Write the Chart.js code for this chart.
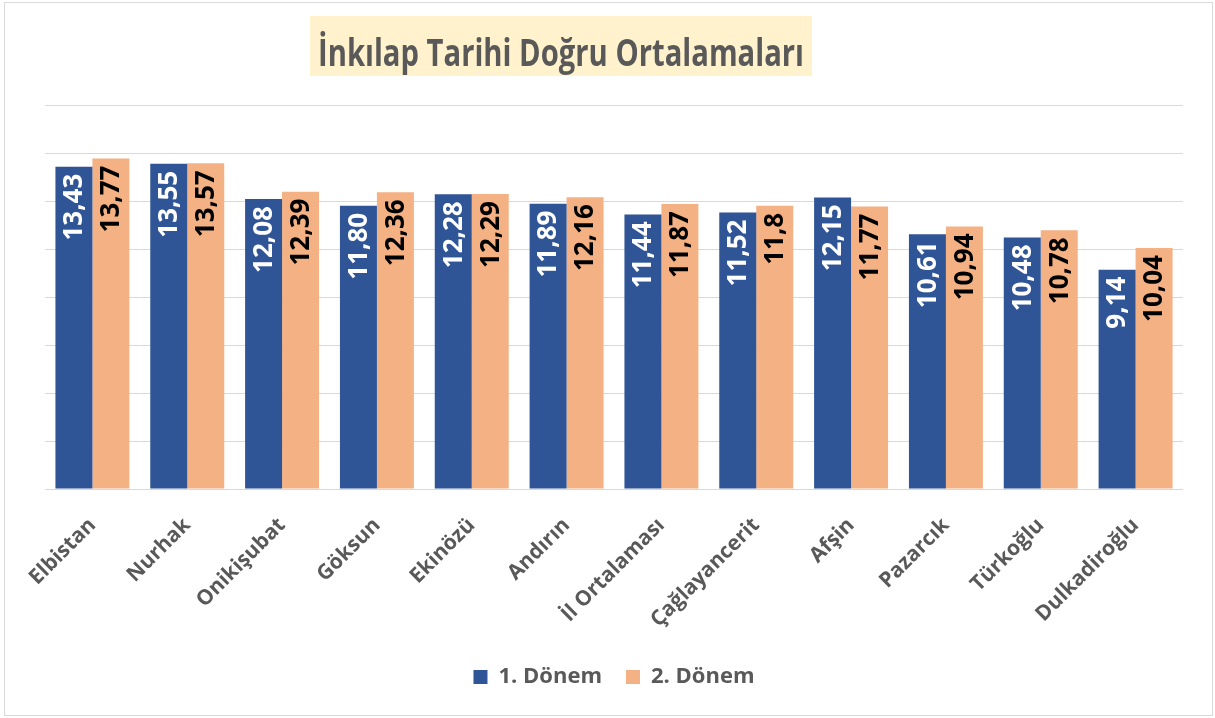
<!DOCTYPE html>
<html lang="tr">
<head>
    <meta charset="UTF-8">
    <title>İnkılap Tarihi Doğru Ortalamaları</title>
    <style>
        body {
            margin: 0;
            background: #fff;
        }

        .frame {
            position: absolute;
            left: 4px;
            top: 2px;
            width: 1207px;
            height: 712px;
            border: 1px solid #d9d9d9;
        }

        .chart-box {
            position: absolute;
            left: 0;
            top: 0;
            width: 1215px;
            height: 718px;
        }
    </style>
</head>
<body>
    <div class="frame"></div>
    <div class="chart-box">
        <canvas id="ortalamaChart"></canvas>
    </div>
    <script src="https://cdn.jsdelivr.net/npm/chart.js"></script>
    <script>
        const ilceler = ['Elbistan', 'Nurhak', 'Onikişubat', 'Göksun', 'Ekinözü', 'Andırın',
            'İl Ortalaması', 'Çağlayancerit', 'Afşin', 'Pazarcık', 'Türkoğlu', 'Dulkadiroğlu'];
        const donem1 = [13.43, 13.55, 12.08, 11.80, 12.28, 11.89, 11.44, 11.52, 12.15, 10.61, 10.48, 9.14];
        const donem2 = [13.77, 13.57, 12.39, 12.36, 12.29, 12.16, 11.87, 11.8, 11.77, 10.94, 10.78, 10.04];
        // labels as printed on the bars
        const etiket1 = ['13,43', '13,55', '12,08', '11,80', '12,28', '11,89', '11,44', '11,52', '12,15', '10,61', '10,48', '9,14'];
        const etiket2 = ['13,77', '13,57', '12,39', '12,36', '12,29', '12,16', '11,87', '11,8', '11,77', '10,94', '10,78', '10,04'];
        const yTicks = [0, 2, 4, 6, 8, 10, 12, 14, 16];

        const textGray = '#595959';

        // title with yellow box
        const titlePlugin = {
            id: 'titleBox',
            beforeDraw(chart) {
                const ctx = chart.ctx;
                ctx.save();
                ctx.fillStyle = '#FFF2CC';
                ctx.fillRect(310, 16, 502, 60);
                ctx.fillStyle = textGray;
                ctx.font = 'bold 37px "Open Sans"';
                ctx.textAlign = 'center';
                ctx.textBaseline = 'alphabetic';
                ctx.fillText('İnkılap Tarihi Doğru Ortalamaları', 561, 66, 486);
                ctx.restore();
            }
        };

        // vertical value labels inside the bar tops
        const barLabels = {
            id: 'barLabels',
            afterDatasetsDraw(chart) {
                const ctx = chart.ctx;
                chart.data.datasets.forEach((ds, i) => {
                    const meta = chart.getDatasetMeta(i);
                    meta.data.forEach((bar, j) => {
                        ctx.save();
                        ctx.translate(bar.x, bar.y + 7);
                        ctx.rotate(-Math.PI / 2);
                        ctx.font = 'bold 26px "Open Sans"';
                        ctx.fillStyle = ds.labelColor;
                        ctx.textAlign = 'right';
                        ctx.textBaseline = 'middle';
                        ctx.fillText(ds.texts[j], 0, 1);
                        ctx.restore();
                    });
                });
            }
        };

        const ctx = document.getElementById('ortalamaChart').getContext('2d');
        new Chart(ctx, {
            type: 'bar',
            data: {
                labels: ilceler,
                datasets: [{
                    label: '1. Dönem',
                    data: donem1,
                    texts: etiket1,
                    labelColor: '#ffffff',
                    backgroundColor: '#2F5597'
                }, {
                    label: '2. Dönem',
                    data: donem2,
                    texts: etiket2,
                    labelColor: '#000000',
                    backgroundColor: '#F4B183'
                }]
            },
            options: {
                responsive: true,
                maintainAspectRatio: false,
                animation: false,
                events: [],
                layout: {
                    padding: { left: 45, right: 32, top: 105, bottom: 20 }
                },
                datasets: {
                    bar: {
                        categoryPercentage: 0.78,
                        barPercentage: 1
                    }
                },
                scales: {
                    x: {
                        grid: { display: false },
                        border: { display: false },
                        ticks: {
                            color: textGray,
                            font: { family: 'Open Sans', weight: 'bold', size: 21 },
                            minRotation: 45,
                            maxRotation: 45,
                            padding: 16
                        },
                        afterFit(scale) {
                            scale.height = 153;
                        }
                    },
                    y: {
                        min: 0,
                        max: 16,
                        afterBuildTicks(scale) {
                            scale.ticks = yTicks.map(v => ({ value: v }));
                        },
                        ticks: { display: false },
                        border: { display: false },
                        grid: { color: '#d9d9d9', lineWidth: 1, drawTicks: false },
                        afterFit(scale) {
                            scale.width = 0;
                        }
                    }
                },
                plugins: {
                    title: { display: false },
                    tooltip: { enabled: false },
                    legend: {
                        position: 'bottom',
                        labels: {
                            color: textGray,
                            font: { family: 'Open Sans', weight: 'bold', size: 22 },
                            boxWidth: 14,
                            boxHeight: 14,
                            padding: 24
                        }
                    }
                }
            },
            plugins: [titlePlugin, barLabels]
        });
    </script>
</body>
</html>
